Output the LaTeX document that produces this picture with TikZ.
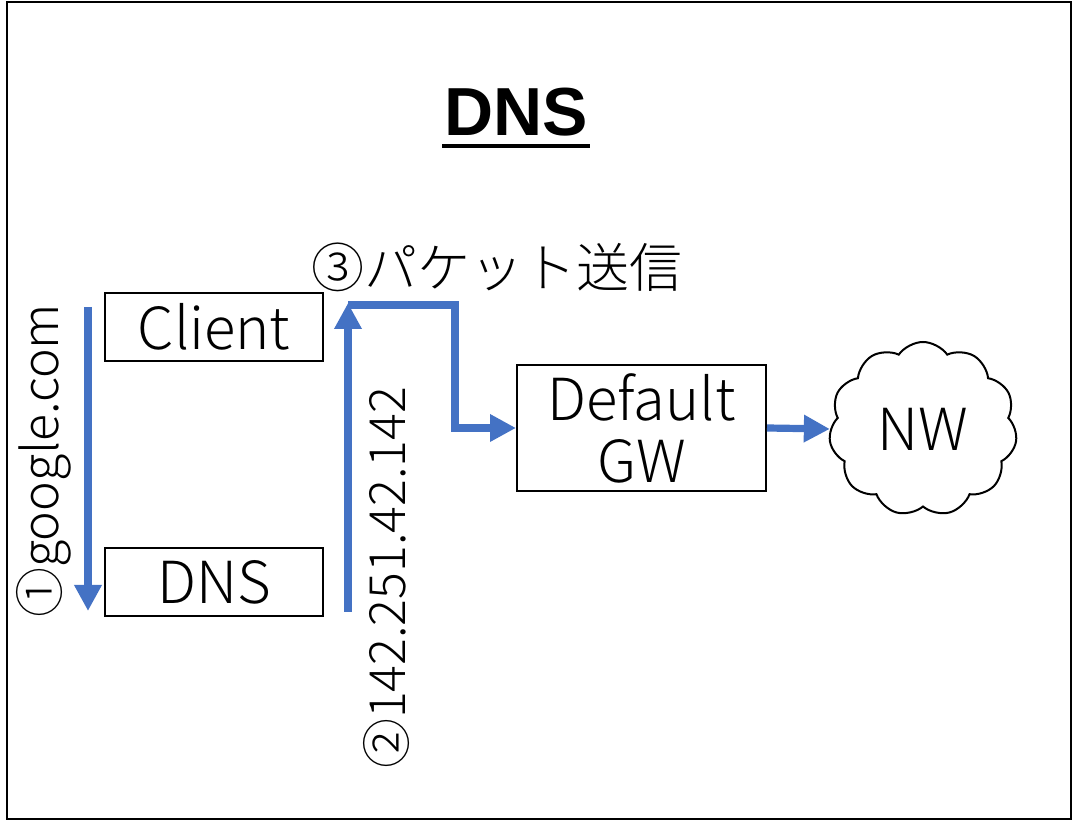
\documentclass[tikz,border=0pt]{standalone}
\usepackage{fontspec}
\setmainfont{Noto Sans CJK JP}[UprightFont={* Light}]
\newfontfamily\titlefont{Liberation Sans}
\usepackage{tikz}
\usetikzlibrary{arrows.meta,shapes.symbols}

\definecolor{flowblue}{RGB}{68,114,196}

\tikzset{
  box/.style = {draw, line width=1pt, inner sep=0pt, font=\fontsize{29}{33}\selectfont},
  flow/.style = {draw=flowblue, line width=3.6pt, -{Triangle[width=13pt,length=13pt]}},
  tag/.style = {inner sep=0pt, font=\fontsize{25}{29}\selectfont}
}

\begin{document}
\begin{tikzpicture}[x=0.5pt, y=-0.5pt]
\useasboundingbox (0,0) rectangle (1073,822);
\draw[line width=1.2pt] (7,2) rectangle (1071,819);

% title
\node[inner sep=0pt, font=\titlefont\bfseries\fontsize{34}{38}\selectfont] (title) at (516,112) {DNS};
\draw[line width=1.6pt] (442,146) -- (590,146);

% boxes
\node[box, minimum width=109pt, minimum height=34pt] (client) at (214,327) {Client};
\node[box, minimum width=109pt, minimum height=34pt] (dns) at (214,582) {DNS};
\node[box, minimum width=124.5pt, minimum height=63pt, align=center,
      font=\fontsize{29}{31}\selectfont] (gw) at (641.5,428) {Default\\GW};
\node[cloud, draw, line width=1pt, cloud puffs=11, cloud puff arc=110,
      minimum width=94pt, minimum height=87pt, inner sep=0pt,
      font=\fontsize{29}{33}\selectfont] (nw) at (923,429) {NW};

% flows
\coordinate (q1top) at (88,307);
\coordinate (q1bot) at (88,611);
\coordinate (q2bot) at (348,612);
\coordinate (q2top) at (348,303);
\coordinate (bend) at (455,305);
\draw[flow] (q1top) -- (q1bot);
\draw[flow] (q2bot) -- (q2top);
\draw[flow, line join=miter] (348,305) -- (bend) |- (gw.west);
\draw[flow] (gw.east) -- (nw.west);

% labels
\node[tag, rotate=90] (ask) at (44,461) {①google.com};
\node[tag, rotate=90] (reply) at (386,578) {②142.251.42.142};
\node[tag, font=\fontsize{26.5}{30}\selectfont] (send) at (497,267) {③パケット送信};
\end{tikzpicture}
\end{document}
